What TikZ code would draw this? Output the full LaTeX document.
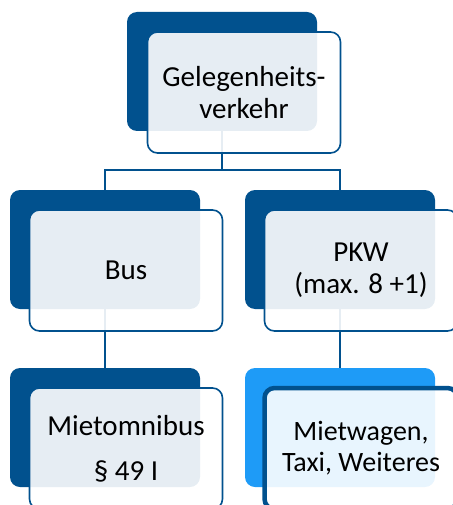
\documentclass[tikz,border=0pt]{standalone}
\usepackage{fontspec}
\setmainfont{Carlito}
\usetikzlibrary{positioning, calc}
\definecolor{primary}{HTML}{01518E}
\definecolor{bright}{HTML}{1E9BF7}

\begin{document}
\begin{tikzpicture}[x=1pt, y=-1pt,
    backbox/.style={fill=primary, rounded corners=10pt,
      minimum width=190pt, minimum height=119pt, inner sep=0pt},
    frontbox/.style={draw=primary, line width=1.6pt, fill=white, fill opacity=0.9,
      text opacity=1, rounded corners=10pt, minimum width=193pt, minimum height=121pt,
      align=center, font=\fontsize{29}{32}\selectfont},
    conn/.style={draw=primary, line width=1.6pt}]
  \useasboundingbox (0,0) rectangle (452,505);
  % Back blocks
  \node[backbox] (gvb) at (222,71.5) {};
  \node[backbox] (busb) at (105,249.5) {};
  \node[backbox] (pkwb) at (340,249.5) {};
  \node[backbox] (mob) at (105,427.5) {};
  \node[backbox, fill=bright] (mwb) at (340,427.5) {};
  % Connectors
  \coordinate (jn) at (222,170);
  \draw[conn] (gvb.center) -- (jn);
  \draw[conn] (busb.north) |- (jn) -| (pkwb.north);
  \draw[conn] (busb.center) -- (mob.north);
  \draw[conn] (pkwb.center) -- (mwb.north);
  % Front blocks
  \node[frontbox] (gvf) at ([shift={(22,21)}]gvb.center) {Gelegenheits-\\verkehr};
  \node[frontbox] (busf) at ([shift={(21,21)}]busb.center) {Bus};
  \node[frontbox] (pkwf) at ([shift={(21,21)}]pkwb.center) {PKW\\(max. 8 +1)};
  \node[frontbox] (mof) at ([shift={(21,21)}]mob.center) {Mietomnibus\\[13pt]\S\ 49 I};
  \node[frontbox, line width=4.5pt, font=\fontsize{28}{31}\selectfont]
    (mwf) at ([shift={(21,21)}]mwb.center) {Mietwagen,\\Taxi, Weiteres};
\end{tikzpicture}
\end{document}
